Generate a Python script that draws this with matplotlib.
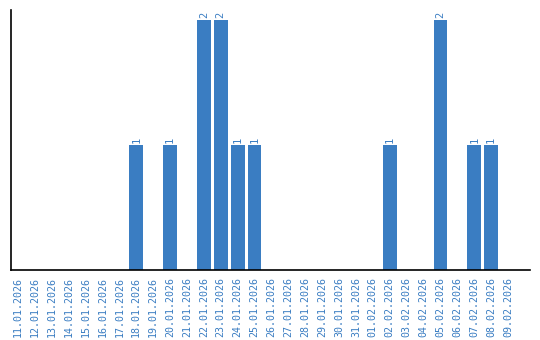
import matplotlib
matplotlib.use('Agg')
import matplotlib.pyplot as plt
import numpy as np

# data
dates = ['11.01.2026', '12.01.2026', '13.01.2026', '14.01.2026', '15.01.2026',
         '16.01.2026', '17.01.2026', '18.01.2026', '19.01.2026', '20.01.2026',
         '21.01.2026', '22.01.2026', '23.01.2026', '24.01.2026', '25.01.2026',
         '26.01.2026', '27.01.2026', '28.01.2026', '29.01.2026', '30.01.2026',
         '31.01.2026', '01.02.2026', '02.02.2026', '03.02.2026', '04.02.2026',
         '05.02.2026', '06.02.2026', '07.02.2026', '08.02.2026', '09.02.2026']
counts = [0, 0, 0, 0, 0, 0, 0, 1, 0, 1,
          0, 2, 2, 1, 1, 0, 0, 0, 0, 0,
          0, 0, 1, 0, 0, 2, 0, 1, 1, 0]

BLUE = '#3a7dc2'

fig = plt.figure(figsize=(5.4, 3.4), dpi=100)
ax = fig.add_axes([11 / 540, 70 / 340, 519 / 540, 260 / 340])

x = np.arange(len(dates))
ax.bar(x, counts, width=0.82, color=BLUE)
for xi, c in zip(x, counts):
    if c > 0:
        ax.text(xi, c + 0.02, str(c), rotation=90, ha='center', va='bottom',
                color=BLUE, fontsize=7.5, family='DejaVu Sans Mono')

ax.set_xlim(-0.41, 30.3)
ax.set_ylim(0, 2.08)
ax.set_xticks(x)
ax.set_xticklabels(dates, rotation=90, color=BLUE, fontsize=7.2,
                   family='DejaVu Sans Mono')
ax.tick_params(axis='x', length=0, pad=5)
ax.set_yticks([])
ax.spines['top'].set_visible(False)
ax.spines['right'].set_visible(False)
ax.spines['left'].set_linewidth(1.2)
ax.spines['bottom'].set_linewidth(1.2)

fig.savefig('out.png', dpi=100)
